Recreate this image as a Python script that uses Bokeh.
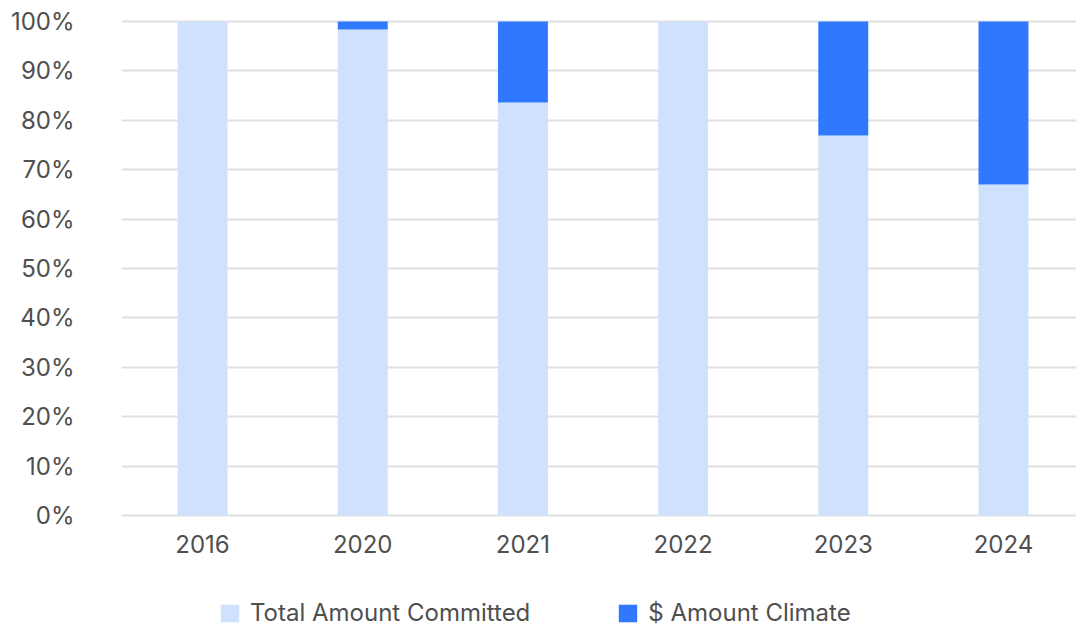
from bokeh.plotting import figure
from bokeh.layouts import column
from bokeh.models import ColumnDataSource, FixedTicker, Legend, LegendItem
from bokeh.embed import file_html
from bokeh.resources import INLINE

years = ["2016", "2020", "2021", "2022", "2023", "2024"]
total_committed_pct = [100.0, 98.4, 83.6, 100.0, 76.9, 67.0]
climate_pct = [0.0, 1.6, 16.4, 0.0, 23.1, 33.0]
y_ticks = [0, 10, 20, 30, 40, 50, 60, 70, 80, 90, 100]
series_names = ["Total Amount Committed", "$ Amount Climate"]

LIGHT = "#D0E1FD"
DARK = "#3079FF"
TEXT = "#4f4f4f"
FONT = "Inter"

xs = list(range(len(years)))
src = ColumnDataSource(dict(
    x=xs,
    total=total_committed_pct,
    climate=climate_pct,
    climate_top=[t + c for t, c in zip(total_committed_pct, climate_pct)],
))

# ---- main chart ----
p = figure(width=1076, height=567, output_backend="svg", toolbar_location=None,
           x_range=(-0.506, 5.456), y_range=(-1.01, 101.012),
           min_border_left=121, min_border_right=0, min_border_top=16, min_border_bottom=47)
p.outline_line_color = None

p.vbar(x="x", bottom=0, top="total", width=0.312, source=src,
       fill_color=LIGHT, line_color=None)
p.vbar(x="x", bottom="total", top="climate_top", width=0.312, source=src,
       fill_color=DARK, line_color=None)

p.xgrid.visible = False
p.ygrid.ticker = FixedTicker(ticks=y_ticks)
p.ygrid.grid_line_color = "#e0e0e0"
p.ygrid.grid_line_width = 2

p.yaxis.ticker = FixedTicker(ticks=y_ticks)
p.yaxis.major_label_overrides = {t: f"{t}%" for t in y_ticks}
p.xaxis.ticker = FixedTicker(ticks=xs)
p.xaxis.major_label_overrides = {i: y for i, y in enumerate(years)}

for ax in (p.xaxis[0], p.yaxis[0]):
    ax.axis_line_color = None
    ax.major_tick_line_color = None
    ax.minor_tick_line_color = None
    ax.major_label_text_font = FONT
    ax.major_label_text_font_size = "24px"
    ax.major_label_text_color = TEXT
p.yaxis.major_label_standoff = 41
p.xaxis.major_label_standoff = 8

# ---- legend strip (its bars lie outside its visible range; only the legend shows) ----
q = figure(width=1076, height=60, output_backend="svg", toolbar_location=None,
           x_axis_location=None, y_axis_location=None,
           x_range=(100, 101), y_range=(1000, 1001),
           min_border_left=121, min_border_right=0, min_border_top=0, min_border_bottom=0)
q.outline_line_color = None
q.grid.visible = False
l1 = q.vbar(x="x", bottom=0, top="total", width=0.312, source=src,
            fill_color=LIGHT, line_color=None)
l2 = q.vbar(x="x", bottom="total", top="climate_top", width=0.312, source=src,
            fill_color=DARK, line_color=None)

legend = Legend(items=[LegendItem(label=series_names[0], renderers=[l1]),
                       LegendItem(label=series_names[1], renderers=[l2])],
                orientation="horizontal", location=(97, 0),
                padding=0, margin=0, spacing=86, label_standoff=9,
                glyph_width=23, glyph_height=22,
                label_text_font=FONT, label_text_font_size="24px", label_text_color=TEXT,
                border_line_color=None, background_fill_alpha=0)
q.add_layout(legend, "center")

layout = column(p, q, spacing=0)
open("out.html", "w").write(file_html(layout, INLINE))
